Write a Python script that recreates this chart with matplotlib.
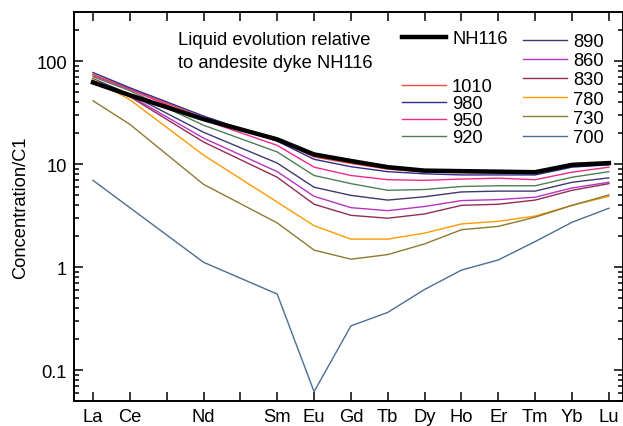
import matplotlib as mpl

mpl.use("Agg")

import matplotlib.pyplot as plt
from matplotlib.lines import Line2D
from matplotlib.ticker import FixedLocator, LogLocator, NullFormatter

plt.rcParams["font.family"] = ["Liberation Sans", "DejaVu Sans"]
plt.rcParams["font.size"] = 13.2

# REE positions by atomic number (Pr and Pm get ticks but no data)
ree_z = [57, 58, 60, 62, 63, 64, 65, 66, 67, 68, 69, 70, 71]
tick_z = list(range(57, 72))
tick_labels = ["La", "Ce", "", "Nd", "", "Sm", "Eu", "Gd", "Tb", "Dy", "Ho", "Er", "Tm", "Yb", "Lu"]

# chondrite-normalised concentrations
nh116 = [62.5, 47.0, 27.5, 17.5, 12.5, 10.8, 9.4, 8.7, 8.6, 8.5, 8.4, 9.9, 10.3]
liq_1010 = [75.0, 54.0, 28.5, 17.2, 11.8, 10.2, 9.0, 8.4, 8.3, 8.2, 8.2, 9.6, 10.1]
liq_980 = [78.0, 55.5, 29.5, 16.8, 11.2, 9.5, 8.5, 8.1, 7.9, 7.9, 7.9, 9.4, 9.9]
liq_950 = [73.0, 53.5, 27.0, 15.3, 9.4, 7.8, 7.1, 7.0, 7.2, 7.35, 7.1, 8.4, 9.4]
liq_920 = [71.0, 52.0, 24.0, 13.2, 7.8, 6.5, 5.6, 5.7, 6.1, 6.2, 6.2, 7.5, 8.5]
liq_890 = [68.0, 48.0, 20.5, 10.3, 6.0, 5.0, 4.5, 4.85, 5.4, 5.5, 5.5, 6.7, 7.4]
liq_860 = [66.0, 46.5, 18.0, 8.5, 4.9, 3.8, 3.55, 3.9, 4.45, 4.55, 4.8, 5.9, 6.7]
liq_830 = [65.0, 45.5, 16.5, 7.5, 4.1, 3.2, 3.0, 3.3, 4.0, 4.1, 4.5, 5.6, 6.5]
liq_780 = [67.0, 42.5, 12.3, 4.3, 2.54, 1.88, 1.88, 2.15, 2.64, 2.8, 3.15, 4.0, 4.9]
liq_730 = [41.5, 24.5, 6.4, 2.7, 1.47, 1.2, 1.33, 1.69, 2.32, 2.5, 3.07, 4.0, 5.05]
liq_700 = [7.0, 3.8, 1.12, 0.55, 0.062, 0.27, 0.365, 0.61, 0.94, 1.18, 1.78, 2.74, 3.75]

temps_a = ["1010", "980", "950", "920"]
series_a = [liq_1010, liq_980, liq_950, liq_920]
colors_a = ["#ee4a3a", "#2f2b8a", "#f0288c", "#4f7f55"]

temps_b = ["890", "860", "830", "780", "730", "700"]
series_b = [liq_890, liq_860, liq_830, liq_780, liq_730, liq_700]
colors_b = ["#3b3a70", "#b534c2", "#8f2d57", "#ff9a00", "#8d7a32", "#4d6d93"]

W, H = 623, 427
fig = plt.figure(figsize=(W / 100, H / 100), dpi=100)
ax = fig.add_axes([74 / W, 1 - 402.3 / H, (622.5 - 74) / W, (402.3 - 13.3) / H])

for vals, col in zip(series_a + series_b, colors_a + colors_b):
    ax.plot(ree_z, vals, color=col, lw=1.0, zorder=2)
ax.plot(ree_z, nh116, color="black", lw=3.2, zorder=3, solid_joinstyle="round")

ax.set_yscale("log")
ax.set_ylim(0.05, 300)
ax.set_xlim(56.485, 71.37)
ax.yaxis.set_major_locator(FixedLocator([0.1, 1, 10, 100]))
ax.set_yticklabels(["0.1", "1", "10", "100"])
ax.yaxis.set_minor_locator(LogLocator(base=10, subs=range(2, 10)))
ax.yaxis.set_minor_formatter(NullFormatter())
ax.set_xticks(tick_z, tick_labels)
ax.tick_params(which="both", direction="in", top=True, right=True, width=1.1)
ax.tick_params(which="major", length=6.5, pad=5)
ax.tick_params(which="minor", length=3.5)
ax.tick_params(axis="x", pad=5)
for spine in ax.spines.values():
    spine.set_linewidth(1.4)
ax.set_ylabel("Concentration/C1", labelpad=5)

ax.text(178 / W, 1 - 52 / H, "Liquid evolution relative\nto andesite dyke NH116",
        transform=fig.transFigure, ha="left", va="center", linespacing=1.45)

leg_kw = dict(frameon=False, borderpad=0, borderaxespad=0, handlelength=2.4,
              handletextpad=0.33, labelspacing=0.12)

h0 = [Line2D([], [], color="black", lw=3.2)]
leg0 = fig.legend(h0, ["NH116"], loc="upper left",
                  bbox_to_anchor=(402 / W, 1 - 31 / H), **leg_kw)

ha = [Line2D([], [], color=c, lw=1.0) for c in colors_a]
leg1 = fig.legend(ha, temps_a, loc="upper left",
                  bbox_to_anchor=(402 / W, 1 - 79 / H), **{**leg_kw, "labelspacing": 0.0})

hb = [Line2D([], [], color=c, lw=1.0) for c in colors_b]
leg2 = fig.legend(hb, temps_b, loc="upper left",
                  bbox_to_anchor=(523 / W, 1 - 34 / H), **leg_kw)

fig.savefig("out.png", dpi=100, facecolor="white")
